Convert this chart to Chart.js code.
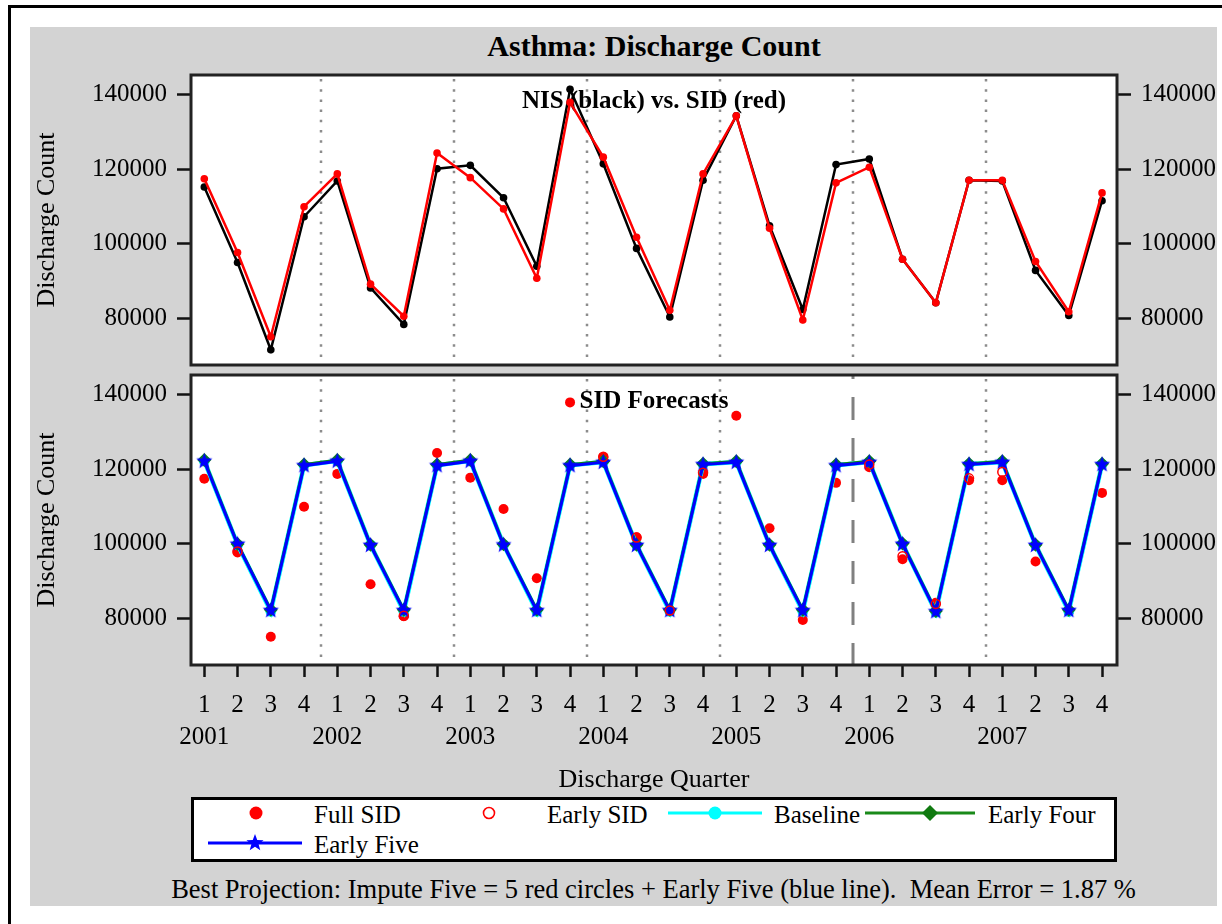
<!DOCTYPE html>
<html>
<head>
<meta charset="utf-8">
<script src="https://cdn.jsdelivr.net/npm/chart.js@4.4.1/dist/chart.umd.min.js"></script>
<style>
  body { margin: 0; width: 1222px; height: 924px; background: #fff; overflow: hidden;
         font-family: "Liberation Serif", "Times New Roman", serif; color: #000; }
  #frame { position: absolute; left: 8px; top: 5px; width: 1260px; height: 960px; border: 3px solid #000; }
  #panel { position: absolute; left: 30px; top: 27px; width: 1187px; height: 879px; background: #d3d3d3; }
  .abs { position: absolute; white-space: pre; }
  #title { left: 191px; width: 926px; top: 28px; line-height: 36px; text-align: center; font-weight: bold; font-size: 30px; }
  #topChart { position: absolute; left: 30px; top: 60px; }
  #bottomChart { position: absolute; left: 30px; top: 368px; }
  #legend { position: absolute; left: 191px; top: 797px; width: 926px; height: 65px; box-sizing: border-box;
            border: 3px solid #000; background: #fff; }
  .lg { font-size: 25px; line-height: 30px; }
  #foot { left: 0; width: 1307px; top: 873px; line-height: 32px; text-align: center; font-size: 26.5px; }
</style>
</head>
<body>
<div id="frame"></div>
<div id="panel"></div>
<div id="title" class="abs">Asthma: Discharge Count</div>
<canvas id="topChart" width="1186" height="310"></canvas>
<canvas id="bottomChart" width="1186" height="432"></canvas>

<div id="legend"></div>
<svg class="abs" style="left:240px;top:798px" width="32" height="30"><circle cx="16" cy="15" r="6.5" fill="#ff0000"/></svg>
<div class="abs lg" style="left:314px;top:800px">Full SID</div>
<svg class="abs" style="left:473px;top:798px" width="32" height="30"><circle cx="16" cy="15" r="5.5" fill="none" stroke="#ff0000" stroke-width="1.6"/></svg>
<div class="abs lg" style="left:547px;top:800px">Early SID</div>
<svg class="abs" style="left:666px;top:798px" width="98" height="30"><line x1="2" y1="15" x2="96" y2="15" stroke="#00ffff" stroke-width="3"/><circle cx="49" cy="15" r="6.5" fill="#00ffff"/></svg>
<div class="abs lg" style="left:774px;top:800px">Baseline</div>
<svg class="abs" style="left:863px;top:798px" width="114" height="30"><line x1="2" y1="15" x2="112" y2="15" stroke="#1a8a1a" stroke-width="3"/><path d="M67 7 L75 15 L67 23 L59 15 Z" fill="#107a10"/></svg>
<div class="abs lg" style="left:988px;top:800px">Early Four</div>
<svg class="abs" style="left:206px;top:828px" width="98" height="30"><line x1="2" y1="15" x2="96" y2="15" stroke="#0000ff" stroke-width="3"/><path id="legendStar" fill="#0000ff"/></svg>
<div class="abs lg" style="left:314px;top:830px">Early Five</div>

<div id="foot" class="abs">Best Projection: Impute Five = 5 red circles + Early Five (blue line).  Mean Error = 1.87 %</div>

<script>
// ---- data ----
const quarterNames = ['1','2','3','4','1','2','3','4','1','2','3','4','1','2','3','4',
                      '1','2','3','4','1','2','3','4','1','2','3','4'];
const yearNames = ['2001','','','','2002','','','','2003','','','','2004','','','',
                   '2005','','','','2006','','','','2007','','',''];
const yTicks = [80000, 100000, 120000, 140000];
const yearBreaks = [4.5, 8.5, 12.5, 16.5, 20.5, 24.5];
const forecastBreak = 20.5;

const nis = [115300, 95000, 71600, 107300, 116900, 88200, 78400, 120200, 121100, 112400,
             94000, 141500, 121500, 98800, 80400, 117100, 134400, 104900, 82400, 121300,
             122800, 95900, 84200, 117100, 116900, 92900, 80800, 111600];
const fullSid = [117500, 97700, 75100, 110000, 118800, 89200, 80600, 124400, 117800, 109400,
                 90800, 138000, 123300, 101800, 82200, 118800, 134400, 104200, 79600, 116400,
                 120600, 95900, 84200, 117100, 117100, 95300, 81800, 113700];
const earlySid = [null, 98000, null, null, null, null, 80700, null, null, null,
                  null, null, 123400, 101700, 82100, 119100, null, null, null, null,
                  121300, 96700, 83900, 117600, 119300, null, null, null];
const baseline = [122300, 99800, 81900, 121100, 122300, 99700, 81900, 121100, 122300, 99800,
                  81900, 121100, 122000, 99700, 81900, 121400, 122000, 99700, 81900, 121100,
                  122000, 100000, 81700, 121400, 122000, 99700, 81900, 121400];
const earlyFour = [122500, 100000, 82300, 121300, 122500, 99800, 82300, 121300, 122500, 99900,
                   82300, 121300, 122200, 99800, 82300, 121500, 122200, 99800, 82300, 121300,
                   122200, 100100, 82000, 121500, 122200, 99800, 82300, 121500];
const earlyFive = [122200, 99900, 82100, 121000, 122200, 99600, 82100, 121000, 122200, 99700,
                   82100, 121000, 121900, 99600, 82100, 121300, 121900, 99600, 82100, 121000,
                   121900, 99900, 81800, 121300, 121900, 99600, 82100, 121300];

const serif = '"Liberation Serif", "Times New Roman", serif';
const pts = arr => arr.map((v, i) => ({ x: i + 1, y: v }));

function starPath(cx, cy, r) {
  let d = '';
  for (let i = 0; i < 10; i++) {
    const rad = i % 2 ? r * 0.42 : r;
    const a = -Math.PI / 2 + i * Math.PI / 5;
    d += (i ? 'L' : 'M') + (cx + rad * Math.cos(a)).toFixed(2) + ' ' + (cy + rad * Math.sin(a)).toFixed(2);
  }
  return d + 'Z';
}
function makeStar(r, color) {
  const c = document.createElement('canvas');
  const s = Math.ceil(r * 2 + 2);
  c.width = s; c.height = s;
  const g = c.getContext('2d');
  g.fillStyle = color;
  g.fill(new Path2D(starPath(s / 2, s / 2, r)));
  return c;
}
document.getElementById('legendStar').setAttribute('d', starPath(49, 15, 9));

const panelPlugin = {
  id: 'panel',
  beforeDraw(chart) {
    const { ctx, chartArea: a } = chart;
    ctx.save();
    ctx.fillStyle = '#fff';
    ctx.fillRect(a.left, a.top, a.width, a.height);
    ctx.restore();
  },
  beforeDatasetsDraw(chart, args, opts) {
    const { ctx, chartArea: a, scales } = chart;
    ctx.save();
    ctx.strokeStyle = '#8c8c8c';
    ctx.lineWidth = 2.5;
    ctx.setLineDash([2.5, 7.7]);
    opts.dotted.forEach(v => {
      const px = Math.round(scales.x.getPixelForValue(v));
      ctx.beginPath(); ctx.moveTo(px, a.top + 4); ctx.lineTo(px, a.bottom); ctx.stroke();
    });
    ctx.strokeStyle = '#808080';
    ctx.lineWidth = 3;
    ctx.setLineDash([23, 18]);
    ctx.lineDashOffset = 19;
    opts.dashed.forEach(v => {
      const px = Math.round(scales.x.getPixelForValue(v));
      ctx.beginPath(); ctx.moveTo(px, a.top); ctx.lineTo(px, a.bottom); ctx.stroke();
    });
    ctx.setLineDash([]);
    ctx.fillStyle = '#000';
    ctx.font = 'bold 25px ' + serif;
    ctx.textAlign = 'center';
    ctx.textBaseline = 'middle';
    ctx.fillText(opts.label, (a.left + a.right) / 2, a.top + 27);
    ctx.restore();
  },
  afterDraw(chart) {
    const { ctx, chartArea: a } = chart;
    ctx.save();
    ctx.strokeStyle = '#222';
    ctx.lineWidth = 3;
    ctx.strokeRect(a.left, a.top, a.width, a.height);
    ctx.restore();
  }
};

function yAxis(position, showTitle) {
  return {
    type: 'linear',
    position: position,
    min: 67500,
    max: 145350,
    afterBuildTicks: s => { s.ticks = yTicks.map(v => ({ value: v })); },
    afterFit: s => {
      s.width = position === 'left' ? 161 : 99;
      s.paddingTop = 0;
      s.paddingBottom = 0;
    },
    grid: { drawOnChartArea: false, tickLength: 14, tickWidth: 2.5, tickColor: '#111', color: '#111' },
    border: { display: false },
    ticks: { color: '#000', font: { family: serif, size: 25 }, padding: 10, callback: v => String(v) },
    title: { display: showTitle, text: 'Discharge Count', color: '#000',
             font: { family: serif, size: 26 }, padding: { top: 2, bottom: 0 } }
  };
}

function xAxis(show) {
  return {
    type: 'linear',
    display: show,
    min: 0.6,
    max: 28.45,
    afterBuildTicks: s => { s.ticks = quarterNames.map((q, i) => ({ value: i + 1 })); },
    afterFit: s => {
      if (show) s.height = 135;
      s.paddingLeft = 0;
      s.paddingRight = 0;
    },
    grid: { drawOnChartArea: false, tickLength: 12, tickWidth: 2.5, tickColor: '#111', color: '#111' },
    border: { display: false },
    ticks: { autoSkip: false, maxRotation: 0, color: '#000', padding: 12,
             font: { family: serif, size: 25, lineHeight: 1.28 },
             callback: (v, i) => [quarterNames[i], yearNames[i]] },
    title: { display: show, text: 'Discharge Quarter', color: '#000',
             font: { family: serif, size: 26 }, padding: { top: 0, bottom: 4 } }
  };
}

const common = {
  responsive: false,
  devicePixelRatio: 1,
  animation: false,
  events: [],
  plugins: { legend: { display: false }, tooltip: { enabled: false } }
};

new Chart(document.getElementById('topChart'), {
  type: 'line',
  data: {
    datasets: [
      { label: 'SID', data: pts(fullSid), borderColor: '#ff0000', backgroundColor: '#ff0000',
        borderWidth: 2.5, pointRadius: 3.8, pointBorderWidth: 0, tension: 0, order: 0 },
      { label: 'NIS', data: pts(nis), borderColor: '#000', backgroundColor: '#000',
        borderWidth: 2.5, pointRadius: 3.8, pointBorderWidth: 0, tension: 0, order: 1 }
    ]
  },
  options: Object.assign({}, common, {
    layout: { padding: { top: 15, bottom: 5, left: 0, right: 0 } },
    scales: { x: xAxis(false), y: yAxis('left', true), y2: yAxis('right', false) },
    plugins: Object.assign({}, common.plugins, {
      panel: { dotted: yearBreaks, dashed: [], label: 'NIS (black) vs. SID (red)' }
    })
  }),
  plugins: [panelPlugin]
});

new Chart(document.getElementById('bottomChart'), {
  type: 'line',
  data: {
    datasets: [
      { label: 'Full SID', data: pts(fullSid), showLine: false, pointRadius: 5, pointBorderWidth: 0,
        backgroundColor: '#ff0000', borderColor: '#ff0000', order: 4 },
      { label: 'Baseline', data: pts(baseline), borderColor: '#00ffff', backgroundColor: '#00ffff',
        borderWidth: 4.5, pointRadius: 5.5, pointBorderWidth: 0, tension: 0, order: 3 },
      { label: 'Early Four', data: pts(earlyFour), borderColor: '#108010', backgroundColor: '#108010',
        borderWidth: 3, pointStyle: 'rectRot', pointRadius: 7, pointBorderWidth: 0, tension: 0, order: 2 },
      { label: 'Early Five', data: pts(earlyFive), borderColor: '#0000ff', backgroundColor: '#0000ff',
        borderWidth: 3, pointStyle: makeStar(8.5, '#0000ff'), tension: 0, order: 1 },
      { label: 'Early SID', data: pts(earlySid), showLine: false, pointRadius: 4.5, pointBorderWidth: 1.5,
        borderColor: '#ff0000', backgroundColor: 'rgba(0,0,0,0)', order: 0 }
    ]
  },
  options: Object.assign({}, common, {
    layout: { padding: { top: 6, bottom: 0, left: 0, right: 0 } },
    scales: { x: xAxis(true), y: yAxis('left', true), y2: yAxis('right', false) },
    plugins: Object.assign({}, common.plugins, {
      panel: { dotted: yearBreaks.filter(b => b !== forecastBreak), dashed: [forecastBreak], label: 'SID Forecasts' }
    })
  }),
  plugins: [panelPlugin]
});
</script>
</body>
</html>
